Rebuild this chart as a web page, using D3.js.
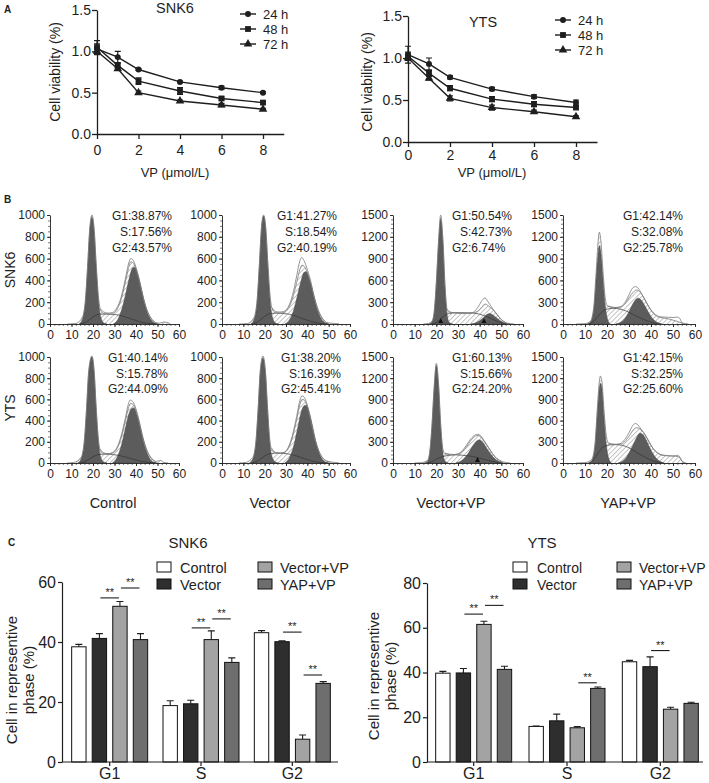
<!DOCTYPE html>
<html><head><meta charset="utf-8">
<script src="https://cdn.jsdelivr.net/npm/d3@7"></script>
<style>body{margin:0;background:#fff}svg{display:block}</style>
</head><body>
<svg id="fig" width="709" height="783"></svg>
<script>
// ---------------- DATA ----------------
// Panel A: cell viability
const doses = [0, 1, 2, 4, 6, 8];
const doseTicks = [0, 2, 4, 6, 8];
const viabTicks = [0, 0.5, 1.0, 1.5];
const timeLabels = ["24 h", "48 h", "72 h"];
const snk6_24 = [1.03, 0.93, 0.78, 0.63, 0.56, 0.50];
const snk6_48 = [1.05, 0.83, 0.64, 0.52, 0.43, 0.38];
const snk6_72 = [1.00, 0.79, 0.50, 0.40, 0.35, 0.30];
const snk6_24e = [0.06, 0.07, 0.01, 0.01, 0.02, 0.01];
const snk6_48e = [0.08, 0.03, 0.04, 0.04, 0.02, 0.02];
const snk6_72e = [0.04, 0.02, 0.02, 0.01, 0.02, 0.01];
const yts_24 = [1.04, 0.93, 0.77, 0.63, 0.54, 0.47];
const yts_48 = [1.02, 0.82, 0.64, 0.51, 0.45, 0.41];
const yts_72 = [1.00, 0.76, 0.52, 0.41, 0.36, 0.30];
const yts_24e = [0.10, 0.07, 0.02, 0.02, 0.02, 0.03];
const yts_48e = [0.05, 0.03, 0.03, 0.03, 0.03, 0.02];
const yts_72e = [0.03, 0.02, 0.03, 0.03, 0.02, 0.01];

// Panel B: DNA content histograms  ([channel, count])
const groupLabels = ["Control", "Vector", "Vector+VP", "YAP+VP"];
const rowLabels = ["SNK6", "YTS"];
const histXTicks = [0, 10, 20, 30, 40, 50, 60];
const histYTicks1000 = [0, 200, 400, 600, 800, 1000];
const histYTicks1500 = [0, 300, 600, 900, 1200, 1500];
const statsSNK6 = [["G1:38.87%", "S:17.56%", "G2:43.57%"], ["G1:41.27%", "S:18.54%", "G2:40.19%"], ["G1:50.54%", "S:42.73%", "G2:6.74%"], ["G1:42.14%", "S:32.08%", "G2:25.78%"]];
const statsYTS = [["G1:40.14%", "S:15.78%", "G2:44.09%"], ["G1:38.20%", "S:16.39%", "G2:45.41%"], ["G1:60.13%", "S:15.66%", "G2:24.20%"], ["G1:42.15%", "S:32.25%", "G2:25.60%"]];

const h1_g1 = [[13.5,0],[15,40],[16.5,210],[17.5,520],[18.5,860],[19.5,980],[20.5,860],[21.5,520],[22.5,220],[23.5,70],[25,10],[26.5,0]];
const h1_g2 = [[29.5,0],[31.5,40],[33.5,140],[35.5,300],[37,430],[38.5,515],[39.5,520],[41,440],[42.5,320],[44,190],[46,70],[48,15],[50,0]];
const h1_fit = [[8,0],[12,5],[15,60],[16.5,230],[17.5,540],[18.5,880],[19.5,1000],[20.5,880],[21.5,550],[22.5,260],[23.5,130],[25,95],[27,90],[29,95],[31,130],[33,220],[35,380],[36.5,510],[37.5,570],[38.5,565],[40,500],[41.5,400],[43,270],[45,130],[47,50],[49,15],[51,8],[53,18],[54.5,15],[56,0]];
const h1_raw = [[23.5,140],[25,110],[27,100],[29,105],[31,145],[33,240],[35,410],[36.5,550],[37.5,600],[38.5,590],[40,520],[41.5,410],[43,275],[45,135],[47,55],[49,15]];
const h1_s = [[14,0],[17,20],[20,65],[23,90],[26,92],[29,88],[32,82],[35,65],[38,45],[42,20],[46,5],[50,0]];

const h2_g1 = [[13.5,0],[15,40],[16.5,210],[17.5,530],[18.5,870],[19.5,990],[20.5,870],[21.5,530],[22.5,220],[23.5,70],[25,10],[26.5,0]];
const h2_g2 = [[29.5,0],[31.5,35],[33.5,120],[35.5,270],[37,390],[38.5,475],[39.5,480],[41,410],[42.5,300],[44,175],[46,65],[48,15],[50,0]];
const h2_fit = [[8,0],[12,5],[15,60],[16.5,230],[17.5,540],[18.5,890],[19.5,1000],[20.5,890],[21.5,560],[22.5,270],[23.5,140],[25,105],[27,100],[29,105],[31,140],[33,230],[35,380],[36.5,500],[37.5,540],[38.5,530],[40,470],[41.5,380],[43,260],[45,130],[47,50],[49,15],[51,8],[53,5],[55,0]];
const h2_raw = [[23.5,150],[25,115],[27,110],[29,115],[31,155],[33,260],[35,440],[36.5,580],[37.3,610],[38.5,580],[40,500],[41.5,400],[43,270],[45,135],[47,55],[49,15]];
const h2_s = [[14,0],[17,22],[20,70],[23,98],[26,100],[29,96],[32,88],[35,70],[38,48],[42,22],[46,5],[50,0]];

const h3_g1 = [[16.5,0],[18,30],[19,150],[20,550],[21,1100],[22,1450],[23,1150],[24,500],[25,120],[26,20],[27.5,0]];
const h3_g2 = [[36,0],[38,15],[40,45],[42,95],[43.5,135],[44.5,143],[46,125],[48,80],[50,35],[52,10],[54,0]];
const h3_fit = [[14,0],[16.5,10],[18,40],[19,170],[20,580],[21,1130],[22,1500],[23,1180],[24,540],[25,200],[26,160],[28,155],[31,150],[34,150],[37,155],[39,175],[41,230],[42.5,275],[44,250],[46,200],[48,130],[50,60],[52,20],[54,5],[56,0]];
const h3_raw = [[25,200],[27,160],[30,150],[33,145],[36,150],[38,185],[40,270],[41.5,340],[42.5,358],[44,300],[46,210],[48,135],[50,60],[52,20]];
const h3_s = [[18,0],[20,20],[22,70],[24,120],[26,145],[29,155],[33,155],[37,150],[40,135],[43,105],[46,65],[49,25],[52,0]];

const h4_g1 = [[11,0],[12.5,30],[14,200],[15,600],[16,980],[16.5,1080],[17.2,980],[18.2,600],[19.2,250],[20.2,70],[21.5,0]];
const h4_g2 = [[24,0],[26,20],[28,70],[30,170],[32,290],[34,355],[35.5,330],[37,260],[39,150],[41,65],[43,20],[45,0]];
const h4_fit = [[6,0],[10,5],[12.5,40],[14,240],[15,680],[16,1150],[16.5,1264],[17.2,1150],[18.2,720],[19.2,360],[20.2,250],[22,230],[24,228],[26,235],[28,270],[30,360],[32,440],[33.5,468],[35,440],[37,350],[39,240],[41,150],[43,100],[45,85],[48,70],[51,45],[54,15],[57,0]];
const h4_raw = [[20.2,250],[22,235],[24,225],[26,235],[28,290],[30,400],[31.5,490],[33,514],[34.5,480],[36,400],[38,290],[40,190],[42,130],[44,100],[46,95],[48,92],[50,90],[52,95],[53,80],[54,20],[55,0]];
const h4_s = [[12,0],[14,40],[16,110],[18,170],[20,205],[23,215],[26,205],[29,175],[32,130],[35,85],[38,45],[41,15],[44,0]];

const h5_g1 = [[13,0],[14.5,40],[16,200],[17,500],[18,850],[19.5,1000],[20.5,860],[21.5,500],[22.5,200],[23.5,60],[25,10],[26.5,0]];
const h5_g2 = [[29,0],[31,45],[33,150],[35,320],[36.5,450],[38,515],[39,520],[40.5,450],[42,330],[43.5,200],[45.5,75],[47.5,15],[49.5,0]];
const h5_fit = [[8,0],[11,5],[14.5,55],[16,220],[17,520],[18,870],[19.5,1010],[20.5,880],[21.5,520],[22.5,230],[23.5,115],[25,88],[27,84],[29,92],[31,130],[33,230],[35,390],[36.5,520],[37.5,563],[38.5,555],[40,490],[41.5,380],[43,250],[45,120],[47,45],[49,15],[50.5,20],[51.5,25],[53,5],[55,0]];
const h5_raw = [[23.5,130],[25,95],[27,88],[29,98],[31,140],[33,250],[35,420],[36.5,560],[37.3,594],[38.5,580],[40,510],[41.5,395],[43,260],[45,125],[47,50],[49,18]];
const h5_s = [[14,0],[17,20],[20,60],[23,80],[26,84],[29,80],[32,72],[35,58],[38,40],[42,18],[46,5],[50,0]];

const h6_g1 = [[13,0],[14.5,40],[16,210],[17,520],[18,870],[19.2,990],[20.3,870],[21.3,520],[22.3,210],[23.3,65],[25,10],[26.5,0]];
const h6_g2 = [[29.5,0],[31.5,45],[33.5,150],[35.5,330],[37,470],[38.5,540],[39.5,545],[41,470],[42.5,340],[44,200],[46,70],[48,15],[50,0]];
const h6_fit = [[8,0],[11,5],[14.5,55],[16,230],[17,540],[18,890],[19.2,1010],[20.3,880],[21.3,540],[22.3,240],[23.3,125],[25,95],[27,90],[29,96],[31,135],[33,240],[35,410],[36.5,550],[37.5,600],[38.5,595],[40,530],[41.5,410],[43,270],[45,130],[47,50],[49,18],[51,10],[53,5],[55,0]];
const h6_raw = [[23.3,140],[25,100],[27,95],[29,100],[31,145],[33,260],[35,440],[36.5,590],[37.5,634],[38.5,620],[40,545],[41.5,420],[43,275],[45,135],[47,55],[49,20],[51,10]];
const h6_s = [[14,0],[17,22],[20,66],[23,90],[26,94],[29,90],[32,82],[35,66],[38,45],[42,20],[46,5],[50,0]];

const h7_g1 = [[14.5,0],[16,30],[17,150],[18,520],[19,1050],[20,1380],[21,1100],[22,520],[23,150],[24,30],[25.5,0]];
const h7_g2 = [[29,0],[31,20],[33,70],[35,150],[37,250],[39,320],[40,325],[41.5,290],[43,220],[45,130],[47,60],[49,20],[51,0]];
const h7_fit = [[10,0],[13,5],[16,40],[17,170],[18,550],[19,1080],[20,1410],[21,1130],[22,560],[23,200],[24,130],[26,120],[28,118],[30,125],[32,160],[34,230],[36,320],[38,380],[39.2,390],[40.5,370],[42,310],[44,220],[46,130],[48,60],[50,25],[52,8],[54,0]];
const h7_raw = [[24,140],[26,125],[28,120],[30,130],[32,175],[34,255],[36,345],[38,398],[39,405],[40.5,385],[42,320],[44,225],[46,130],[48,60],[50,25]];
const h7_s = [[16,0],[18,20],[20,55],[23,90],[26,110],[29,115],[32,110],[35,100],[38,85],[41,60],[44,35],[47,15],[50,0]];

const h8_g1 = [[11.5,0],[13,30],[14.5,220],[15.5,650],[16.5,1050],[17,1130],[17.7,1050],[18.7,620],[19.7,250],[20.7,70],[22,0]];
const h8_g2 = [[25,0],[27,25],[29,90],[31,200],[33,330],[35,420],[36.5,395],[38,310],[40,180],[42,80],[44,25],[46,0]];
const h8_fit = [[6,0],[10,5],[13,50],[14.5,260],[15.5,720],[16.5,1150],[17,1230],[17.7,1150],[18.7,720],[19.7,380],[20.7,280],[22,265],[24,262],[26,265],[28,300],[30,380],[32,470],[33.5,500],[35,480],[37,410],[39,300],[41,200],[43,140],[45,110],[48,100],[51,95],[52.5,90],[54,30],[56,0]];
const h8_raw = [[20.7,285],[22,270],[24,265],[26,275],[28,330],[30,430],[31.5,520],[33,560],[34,540],[35.5,480],[37,420],[39,310],[41,205],[43,145],[45,115],[48,105],[50,100],[52,110],[53,90],[54,30],[55,0]];
const h8_s = [[12,0],[14,50],[16,140],[18,220],[21,255],[24,260],[27,250],[30,215],[33,160],[36,105],[39,55],[42,20],[45,0]];

const h3_marks = [22, 42];
const h7_marks = [39];

// Panel C: cell cycle phase bars
const phases = ["G1", "S", "G2"];
const barGroups = ["Control", "Vector", "Vector+VP", "YAP+VP"];
const snk6Control = [38.4, 18.8, 43.1];
const snk6Vector = [41.2, 19.4, 40.1];
const snk6VectorVP = [51.9, 40.8, 7.6];
const snk6YapVP = [40.8, 33.2, 26.2];
const snk6ControlE = [0.8, 1.6, 0.7];
const snk6VectorE = [1.6, 1.2, 0.3];
const snk6VectorVPE = [1.6, 2.9, 1.4];
const snk6YapVPE = [2.0, 1.5, 0.6];
const snk6Sig = [["G1", "Vector", "Vector+VP", 54.7], ["G1", "Vector+VP", "YAP+VP", 58.0], ["S", "Vector", "Vector+VP", 44.7], ["S", "Vector+VP", "YAP+VP", 47.7], ["G2", "Vector", "Vector+VP", 43.3], ["G2", "Vector+VP", "YAP+VP", 29.0]];
const ytsControl = [39.7, 15.9, 44.8];
const ytsVector = [39.8, 18.4, 42.6];
const ytsVectorVP = [61.5, 15.3, 23.6];
const ytsYapVP = [41.4, 32.9, 26.2];
const ytsControlE = [0.8, 0.2, 0.6];
const ytsVectorE = [2.0, 3.0, 4.4];
const ytsVectorVPE = [1.4, 0.5, 0.9];
const ytsYapVPE = [1.4, 0.6, 0.5];
const ytsSig = [["G1", "Vector", "Vector+VP", 66.1], ["G1", "Vector+VP", "YAP+VP", 70.0], ["S", "Vector+VP", "YAP+VP", 35.4], ["G2", "Vector", "Vector+VP", 49.8]];
const snk6BarTicks = [0, 20, 40, 60];
const ytsBarTicks = [0, 20, 40, 60, 80];

// ---------------- DRAWING ----------------
const FONT = '"Liberation Sans", Arial, Helvetica, sans-serif';
const INK = "#1e1e1e";
const svg = d3.select("#fig").attr("font-family", FONT);
const defs = svg.append("defs");
const pat = defs.append("pattern").attr("id", "hatch").attr("width", 3.4).attr("height", 3.4)
  .attr("patternUnits", "userSpaceOnUse").attr("patternTransform", "rotate(45)");
pat.append("rect").attr("width", 3.4).attr("height", 3.4).attr("fill", "#fff");
pat.append("line").attr("x1", 0.5).attr("y1", 0).attr("x2", 0.5).attr("y2", 3.4).attr("stroke", "#9a9a9a").attr("stroke-width", 0.6);

function styleAxis(g, size, sw) {
  g.attr("font-family", FONT).attr("font-size", size);
  g.selectAll("path,line").attr("stroke", INK).attr("stroke-width", sw || 1);
  g.selectAll("text").attr("fill", INK);
}
function txt(x, y, s, size, anchor, extra) {
  const t = svg.append("text").attr("x", x).attr("y", y).attr("font-size", size)
    .attr("text-anchor", anchor || "start").attr("fill", INK).text(s);
  if (extra) extra(t);
  return t;
}
function vtxt(cx, cy, s, size) {
  return svg.append("text").attr("transform", `translate(${cx},${cy}) rotate(-90)`)
    .attr("text-anchor", "middle").attr("dy", "0.35em").attr("font-size", size).attr("fill", INK).text(s);
}

// panel letters
txt(4, 13, "A", 10, "start", t => t.attr("font-weight", "bold"));
txt(4, 203, "B", 10, "start", t => t.attr("font-weight", "bold"));
txt(8, 546, "C", 10, "start", t => t.attr("font-weight", "bold"));

// ----- Panel A -----
function markerPath(type) {
  if (type === 0) return d3.symbol(d3.symbolCircle, 28)();
  if (type === 1) return d3.symbol(d3.symbolSquare, 34)();
  return d3.symbol(d3.symbolTriangle, 32)();
}
function drawViability(cfg) {
  const x = d3.scaleLinear().domain([0, 9]).range(cfg.xr);
  const y = d3.scaleLinear().domain([0, 1.5]).range(cfg.yr);
  const g = svg.append("g");
  const ya = g.append("g").attr("transform", `translate(${cfg.xr[0]},0)`)
    .call(d3.axisLeft(y).tickValues(viabTicks).tickFormat(d3.format(".1f")).tickSize(5).tickSizeOuter(0).tickPadding(1));
  styleAxis(ya, 14, 1.3);
  const xa = g.append("g").attr("transform", `translate(0,${cfg.yr[0]})`)
    .call(d3.axisBottom(x).tickValues(doseTicks).tickSize(5).tickSizeOuter(0).tickPadding(cfg.xpad));
  styleAxis(xa, 14, 1.3);
  cfg.series.forEach((vals, i) => {
    const errs = cfg.errs[i];
    const pts = doses.map((d, k) => [x(d), y(vals[k])]);
    g.append("path").attr("d", d3.line()(pts)).attr("fill", "none").attr("stroke", INK).attr("stroke-width", 1.4);
    doses.forEach((d, k) => {
      const cx = x(d), y1 = y(vals[k] + errs[k]), y2 = y(vals[k] - errs[k]);
      g.append("path").attr("d", `M${cx},${y1}V${y2}M${cx - 3},${y1}H${cx + 3}M${cx - 3},${y2}H${cx + 3}`)
        .attr("stroke", INK).attr("stroke-width", 1.2).attr("fill", "none");
      g.append("path").attr("d", markerPath(i)).attr("transform", `translate(${cx},${y(vals[k])})`).attr("fill", INK);
    });
    const ly = cfg.legY[i];
    g.append("path").attr("d", `M${cfg.legX - 8},${ly}H${cfg.legX + 8}`).attr("stroke", INK).attr("stroke-width", 1.4);
    g.append("path").attr("d", markerPath(i)).attr("transform", `translate(${cfg.legX},${ly})`).attr("fill", INK);
    txt(cfg.legX + 15, ly + 4.5, timeLabels[i], 13);
  });
  txt(cfg.titleX, cfg.titleY, cfg.title, 14.5, "middle");
  txt(x(4) - 5 + cfg.vpdx, 177, "VP (μmol/L)", 13, "middle");
  vtxt(cfg.ytX, cfg.ytY, "Cell viability (%)", 14);
}
drawViability({ xr: [97, 283.75], yr: [134, 10], xpad: 6, series: [snk6_24, snk6_48, snk6_72], errs: [snk6_24e, snk6_48e, snk6_72e],
  legX: 248, legY: [14, 29, 44], title: "SNK6", titleX: 175, titleY: 13, ytX: 55, ytY: 72, vpdx: 0 });
drawViability({ xr: [408, 597], yr: [142, 16], xpad: 3, series: [yts_24, yts_48, yts_72], errs: [yts_24e, yts_48e, yts_72e],
  legX: 563, legY: [20, 35, 50], title: "YTS", titleX: 483, titleY: 27, ytX: 367, ytY: 82, vpdx: 5 });

// ----- Panel B -----
const histCols = [[50, 179], [222, 350], [393, 523], [563, 695]];
const histRows = [[324, 215], [463, 357]];
const histSets = [
  [h1_g1, h1_g2, h1_fit, h1_raw, h1_s, 1000, []],
  [h2_g1, h2_g2, h2_fit, h2_raw, h2_s, 1000, []],
  [h3_g1, h3_g2, h3_fit, h3_raw, h3_s, 1500, h3_marks],
  [h4_g1, h4_g2, h4_fit, h4_raw, h4_s, 1500, []],
  [h5_g1, h5_g2, h5_fit, h5_raw, h5_s, 1000, []],
  [h6_g1, h6_g2, h6_fit, h6_raw, h6_s, 1000, []],
  [h7_g1, h7_g2, h7_fit, h7_raw, h7_s, 1500, h7_marks],
  [h8_g1, h8_g2, h8_fit, h8_raw, h8_s, 1500, []]
];
const statX = [[112, 277, 452, 623], [108, 281, 452, 623]];
const statY = [[220, 236, 252], [362, 377.5, 393]];
histSets.forEach((set, idx) => {
  const r = Math.floor(idx / 4), c = idx % 4;
  const [g1, g2, fit, raw, sComp, ymax, marks] = set;
  const x = d3.scaleLinear().domain([0, 60]).range(histCols[c]);
  const y = d3.scaleLinear().domain([0, ymax]).range(histRows[r]);
  const g = svg.append("g");
  const clipId = "clip" + idx;
  defs.append("clipPath").attr("id", clipId).append("rect")
    .attr("x", histCols[c][0]).attr("y", histRows[r][1] - 3).attr("width", histCols[c][1] - histCols[c][0]).attr("height", histRows[r][0] - histRows[r][1] + 3);
  const pg = g.append("g").attr("clip-path", `url(#${clipId})`);
  const area = d3.area().x(d => x(d[0])).y0(y(0)).y1(d => y(d[1])).curve(d3.curveMonotoneX);
  const line = d3.line().x(d => x(d[0])).y(d => y(d[1])).curve(d3.curveMonotoneX);
  pg.append("path").attr("d", area(fit)).attr("fill", "url(#hatch)");
  pg.append("path").attr("d", area(g1)).attr("fill", "#5c5c5c").attr("stroke", "#444").attr("stroke-width", 0.5);
  pg.append("path").attr("d", area(g2)).attr("fill", "#5c5c5c").attr("stroke", "#444").attr("stroke-width", 0.5);
  pg.append("path").attr("d", line(sComp)).attr("fill", "none").attr("stroke", "#333").attr("stroke-width", 0.7);
  pg.append("path").attr("d", line(fit)).attr("fill", "none").attr("stroke", "#7a7a7a").attr("stroke-width", 0.8);
  pg.append("path").attr("d", line(raw)).attr("fill", "none").attr("stroke", "#7a7a7a").attr("stroke-width", 0.8);
  const yt = ymax === 1000 ? histYTicks1000 : histYTicks1500;
  const minorStep = ymax === 1000 ? 50 : 60;
  const ya = g.append("g").attr("transform", `translate(${histCols[c][0]},0)`)
    .call(d3.axisLeft(y).tickValues(yt).tickFormat(d3.format("d")).tickSize(3).tickSizeOuter(0).tickPadding(2));
  styleAxis(ya, 12, 0.9);
  const ym = g.append("g").attr("transform", `translate(${histCols[c][0]},0)`)
    .call(d3.axisLeft(y).tickValues(d3.range(0, ymax + 1, minorStep)).tickSize(2).tickFormat(""));
  styleAxis(ym, 12, 0.6); ym.select(".domain").remove();
  const xa = g.append("g").attr("transform", `translate(0,${histRows[r][0]})`)
    .call(d3.axisBottom(x).tickValues(histXTicks).tickFormat(d3.format("d")).tickSize(3).tickSizeOuter(0).tickPadding(3));
  styleAxis(xa, 12, 0.9);
  const xm = g.append("g").attr("transform", `translate(0,${histRows[r][0]})`)
    .call(d3.axisBottom(x).tickValues(d3.range(0, 61, 2)).tickSize(2).tickFormat(""));
  styleAxis(xm, 12, 0.6); xm.select(".domain").remove();
  marks.forEach(m => {
    const mx = x(m), my = y(0);
    g.append("path").attr("d", `M${mx},${my - 6}L${mx + 2.5},${my - 1}L${mx - 2.5},${my - 1}Z`).attr("fill", "#111");
  });
  const st = (r === 0 ? statsSNK6 : statsYTS)[c];
  const sx = statX[r][c];
  const t1 = txt(sx, statY[r][0], st[0], 12);
  const w = t1.node().getComputedTextLength();
  txt(sx + w, statY[r][1], st[1], 12, "end");
  txt(sx, statY[r][2], st[2], 12);
});
vtxt(10, 270, rowLabels[0], 14);
vtxt(10, 408, rowLabels[1], 14);
const groupLabelX = [113, 270, 451, 628];
groupLabels.forEach((s, i) => txt(groupLabelX[i], 508, s, 14.5, "middle"));

// ----- Panel C -----
const barFill = { "Control": "#ffffff", "Vector": "#2e2e2e", "Vector+VP": "#a3a3a3", "YAP+VP": "#6e6e6e" };
function drawBars(cfg) {
  const y = d3.scaleLinear().domain([0, cfg.ymax]).range([762, cfg.yTop]);
  const x0 = d3.scaleBand().domain(phases).range(cfg.xr);
  const bw = x0.bandwidth();
  const x1 = d3.scaleBand().domain(barGroups).range([bw / 2 - 38, bw / 2 + 38]).paddingInner(0.3);
  const g = svg.append("g");
  cfg.values.forEach((vals, si) => {
    const key = barGroups[si];
    phases.forEach((p, pi) => {
      const bx = x0(p) + x1(key), v = vals[pi], e = cfg.errs[si][pi];
      const cx = bx + x1.bandwidth() / 2;
      g.append("path").attr("d", `M${cx},${y(v)}V${y(v + e)}M${cx - 3.5},${y(v + e)}H${cx + 3.5}`)
        .attr("stroke", INK).attr("stroke-width", 1.1);
      g.append("rect").attr("x", bx).attr("y", y(v)).attr("width", x1.bandwidth()).attr("height", y(0) - y(v))
        .attr("fill", barFill[key]).attr("stroke", "#111").attr("stroke-width", 1);
    });
  });
  cfg.sig.forEach(([p, a, b, v]) => {
    const xa = x0(p) + x1(a) + x1.bandwidth() / 2 + 1, xb = x0(p) + x1(b) + x1.bandwidth() / 2 - 1;
    g.append("path").attr("d", `M${xa},${y(v)}H${xb}`).attr("stroke", INK).attr("stroke-width", 1.1);
    txt((xa + xb) / 2, y(v) - 2, "**", 11, "middle");
  });
  const ya = g.append("g").attr("transform", `translate(${cfg.axisX},0)`)
    .call(d3.axisLeft(y).tickValues(cfg.ticks).tickSize(4).tickSizeOuter(0).tickPadding(2));
  styleAxis(ya, 16, 1.2);
  const xa = g.append("g").attr("transform", `translate(0,762)`)
    .call(d3.axisBottom(x0).tickSize(4).tickSizeOuter(0).tickPadding(2));
  styleAxis(xa, 16, 1.2);
  xa.select(".domain").attr("d", `M${cfg.axisX},0H${cfg.axisEnd}`);
  barGroups.forEach((k, i) => {
    const col = i < 2 ? 0 : 1, row = i % 2;
    const bx = cfg.legBoxX[col], cy = 567 + row * 17;
    g.append("rect").attr("x", bx).attr("y", cy - 5).attr("width", 14).attr("height", 10)
      .attr("fill", barFill[k]).attr("stroke", "#111").attr("stroke-width", 1);
    txt(cfg.legTextX[col], cy + 5.5, k, cfg.legFont);
  });
  txt(cfg.titleX, 548, cfg.title, 15, "middle");
  vtxt(cfg.ytX[0], cfg.ytY, "Cell in representive", 15);
  vtxt(cfg.ytX[1], cfg.ytY, "phase (%)", 15);
}
drawBars({ ymax: 60, yTop: 582, xr: [64, 338], axisX: 62, axisEnd: 338, ticks: snk6BarTicks,
  values: [snk6Control, snk6Vector, snk6VectorVP, snk6YapVP], errs: [snk6ControlE, snk6VectorE, snk6VectorVPE, snk6YapVPE],
  sig: snk6Sig, legBoxX: [157, 258], legTextX: [180, 280], legFont: 14.5, title: "SNK6", titleX: 188, ytX: [12, 29], ytY: 680 });
drawBars({ ymax: 80, yTop: 583, xr: [427, 707], axisX: 427, axisEnd: 703, ticks: ytsBarTicks,
  values: [ytsControl, ytsVector, ytsVectorVP, ytsYapVP], errs: [ytsControlE, ytsVectorE, ytsVectorVPE, ytsYapVPE],
  sig: ytsSig, legBoxX: [513, 617], legTextX: [537, 639], legFont: 14, title: "YTS", titleX: 542, ytX: [374, 391], ytY: 676 });
</script>
</body></html>
